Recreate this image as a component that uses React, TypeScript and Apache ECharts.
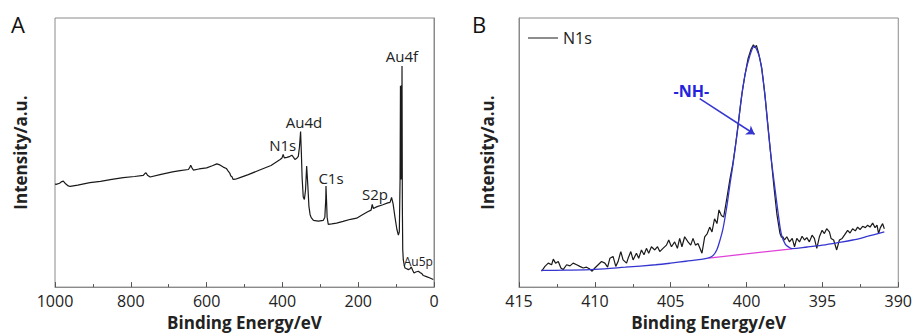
import React, { useEffect, useRef } from "react";
import * as echarts from "echarts";

// Panel A: XPS survey spectrum [binding energy (eV), intensity (a.u.)]
const surveyPoints: [number, number][] = [
  [1000, 38.3], [997, 38.2], [988, 38.6], [982, 39.2], [978, 39.4], [972, 38.4], [965, 37.6], [960, 37.4],
  [940, 37.9], [908, 38.8], [880, 39.3], [850, 40.0], [820, 40.7], [790, 41.1], [767, 41.5], [763, 42.2],
  [760, 42.5], [756, 41.6], [749, 40.9], [720, 41.9], [690, 42.8], [670, 43.3], [648, 43.7], [644, 44.6],
  [642, 45.3], [639, 44.4], [635, 43.5], [620, 43.9], [600, 44.3], [585, 45.1], [573, 45.8], [565, 45.4],
  [556, 44.6], [548, 44.1], [543, 43.1], [539, 42.4], [536, 41.3], [533, 41.0], [530, 40.0], [524, 40.1],
  [512, 40.7], [490, 41.8], [460, 43.5], [430, 45.2], [406, 47.4], [401, 48.0], [398, 49.3], [395, 48.0],
  [388, 48.2], [380, 48.6], [375, 49.0], [370, 48.1], [367, 47.4], [362, 47.9], [358, 48.6], [355, 52],
  [352, 57.8], [350, 50], [348, 40.7], [345, 33.5], [342, 32.6], [339, 36], [336, 45], [333, 38], [330, 30],
  [327, 27], [324, 25.8], [318, 24.8], [305, 24.5], [292, 24.8], [288, 26], [285.5, 33], [285, 37.6],
  [283.5, 32], [282, 26], [279, 23.3], [270, 23.5], [257, 23.8], [240, 24.4], [220, 25.2], [204, 25.6],
  [190, 26.8], [175, 28.0], [166, 28.6], [163, 30.7], [160, 29.2], [150, 29.9], [135, 30.6], [122, 31.3],
  [116, 31.5], [112, 33.3], [108, 31], [103, 26], [98, 21.5], [94, 19.3], [91.5, 20.5], [89.5, 40],
  [88.5, 74.8], [88.0, 45], [87.5, 74], [87.0, 40], [86.5, 74.5], [86.0, 42], [85.5, 75], [85.0, 40],
  [84.4, 82.2], [83.5, 30], [82.5, 14], [81, 10.1], [78, 7.8], [76.5, 7.1], [72, 6.8], [67.8, 6.5],
  [63, 6.8], [60, 7.5], [58.8, 7.7], [56, 6.2], [52.8, 5.2], [48, 5.6], [41.4, 5.9], [36, 5.3], [32, 5.0],
  [28.2, 4.3], [20, 3.9], [10.6, 3.4], [1.8, 2.8], [0, 2.8],
];

// Peak labels for panel A: name, energy, intensity anchor
const surveyLabelNames = ["Au4f", "Au4d", "N1s", "C1s", "S2p", "Au5p"];
const surveyLabelEnergy = [84.4, 343, 399.2, 271.8, 155.7, 41.4];
const surveyLabelIntensity = [85.8, 61.4, 52.9, 40.7, 34.5, 9.5];

// Panel B: N1s high-resolution spectrum
const n1sRaw: [number, number][] = [
  [413.51, 5.9], [413.29, 7.7], [413.07, 8.9], [412.85, 8.3], [412.74, 10.4], [412.59, 8.9], [412.41, 9.5],
  [412.24, 7.1], [412.09, 6.5], [411.86, 8.3], [411.64, 7.9], [411.43, 8.9], [411.2, 8.3], [410.99, 7.7],
  [410.77, 7.1], [410.55, 7.4], [410.33, 6.7], [410.18, 5.9], [410.0, 7.1], [409.78, 8.3], [409.56, 9.5],
  [409.34, 8.9], [409.16, 7.4], [409.01, 10.7], [408.8, 11.4], [408.62, 7.7], [408.47, 9.5], [408.29, 13.2],
  [408.14, 10.1], [407.91, 8.9], [407.81, 10.7], [407.63, 13.2], [407.48, 10.1], [407.26, 12.6], [407.11, 10.7],
  [406.93, 13.8], [406.76, 12.0], [406.6, 14.4], [406.45, 12.6], [406.27, 15.0], [406.05, 13.8], [405.87, 15.0],
  [405.72, 13.2], [405.51, 14.4], [405.28, 15.6], [405.13, 17.5], [404.95, 15.0], [404.74, 16.8], [404.56, 14.4],
  [404.41, 18.1], [404.26, 15.0], [404.08, 18.7], [403.86, 16.8], [403.68, 15.6], [403.53, 18.1], [403.37, 15.6],
  [403.2, 16.2], [402.94, 12.6], [402.76, 18.7], [402.59, 19.9], [402.43, 22.3], [402.28, 20.5], [402.11, 25.4],
  [401.95, 23.6], [401.82, 28.7], [401.66, 26.6], [401.51, 26.0], [401.3, 33], [401.1, 40], [400.9, 46],
  [400.7, 54], [400.5, 63], [400.3, 72], [400.1, 79], [399.9, 85], [399.7, 88.5], [399.55, 90], [399.45, 89],
  [399.35, 89.8], [399.2, 86.8], [399.0, 81.5], [398.8, 72], [398.6, 60.5], [398.4, 49], [398.2, 37.5],
  [398.0, 27], [397.8, 20], [397.7, 18.5], [397.61, 18.7], [397.5, 17.5], [397.35, 18.7], [397.17, 16.8],
  [396.99, 18.1], [396.84, 15.0], [396.69, 18.1], [396.51, 16.8], [396.34, 18.9], [396.18, 17.5], [396.03, 18.4],
  [395.86, 16.8], [395.68, 19.3], [395.53, 18.1], [395.37, 14.4], [395.2, 18.7], [395.02, 21.1], [394.87, 19.9],
  [394.72, 21.7], [394.54, 20.5], [394.43, 18.1], [394.26, 17.5], [394.06, 13.8], [393.88, 17.5], [393.7, 18.1],
  [393.55, 19.3], [393.34, 21.1], [393.18, 20.1], [393.01, 21.7], [392.83, 20.9], [392.68, 22.3], [392.52, 21.4],
  [392.35, 22.6], [392.17, 22.1], [392.02, 23.0], [391.86, 22.3], [391.69, 23.8], [391.53, 22.1], [391.4, 23.0],
  [391.3, 19.9], [391.18, 22.1], [391.03, 23.6], [390.92, 21.7],
];

const n1sFit: [number, number][] = [
  [413.55, 6.2], [412, 6.3], [410, 6.6], [408, 7.4], [406, 8.3], [405, 8.9], [404, 9.6], [403, 10.3],
  [402.5, 10.9], [402.2, 11.8], [401.95, 14], [401.75, 17.5], [401.56, 21.5], [401.3, 30], [401.1, 38],
  [400.9, 45.4], [400.6, 58], [400.35, 70], [400.1, 79], [399.8, 85.7], [399.5, 89.5], [399.2, 86.4],
  [399.03, 82], [398.8, 71.8], [398.6, 60], [398.4, 49], [398.16, 38], [397.9, 26.7], [397.7, 19.5],
  [397.45, 16], [397.2, 14.8], [397.0, 14.3], [396, 14.9], [395, 15.6], [394, 16.5], [393, 17.5],
  [392, 18.9], [390.92, 20.5],
];

const n1sBaseline: [number, number][] = [[402.5, 10.8], [397.0, 14.2]];

// Annotation: -NH- label and arrow (data coordinates)
const nhLabel: [number, number] = [403.64, 73.0];
const nhArrowFrom: [number, number] = [403.09, 70];
const nhArrowTo: [number, number] = [399.47, 56.8];

const FONT = '"Open Sans", "Noto Sans", sans-serif';
const TEXT = "#222";
const FRAME = "#8a8a8a";
const BLUE = "#3535d0";

export default function App() {
  const ref = useRef<HTMLDivElement>(null);
  useEffect(() => {
    if (!ref.current) return;
    const chart = echarts.init(ref.current, undefined, { renderer: "svg" });
    const xAxisCommon = {
      type: "value" as const,
      inverse: true,
      axisLine: { show: true, lineStyle: { color: FRAME, width: 1 } },
      axisTick: { show: true, inside: true, length: 5, lineStyle: { color: "#555" } },
      minorTick: { show: true, splitNumber: 2, length: 3, lineStyle: { color: "#555" } },
      splitLine: { show: false },
      minorSplitLine: { show: false },
      axisLabel: {
        color: TEXT, fontSize: 16, margin: 6, fontFamily: FONT, showMinLabel: true, showMaxLabel: true,
        formatter: (v: number) => String(v),
      },
      name: "Binding Energy/eV",
      nameLocation: "middle" as const,
      nameGap: 26,
      nameTextStyle: { fontWeight: "bold" as const, fontSize: 17, color: TEXT, fontFamily: FONT },
    };
    const yAxisCommon = {
      type: "value" as const,
      min: 0,
      max: 100,
      axisLine: { show: true, lineStyle: { color: FRAME, width: 1 } },
      axisTick: { show: false },
      axisLabel: { show: false },
      splitLine: { show: false },
      name: "Intensity/a.u.",
      nameLocation: "middle" as const,
      nameTextStyle: { fontWeight: "bold" as const, fontSize: 17, color: TEXT, fontFamily: FONT },
    };
    const option = {
      animation: false,
      backgroundColor: "#ffffff",
      textStyle: { fontFamily: FONT },
      grid: [
        { left: 55, top: 18, width: 379, height: 273, show: true, borderColor: FRAME, borderWidth: 1 },
        { left: 519, top: 18, width: 380, height: 273, show: true, borderColor: FRAME, borderWidth: 1 },
      ],
      xAxis: [
        { ...xAxisCommon, gridIndex: 0, min: 0, max: 1000, interval: 200 },
        { ...xAxisCommon, gridIndex: 1, min: 390, max: 415, interval: 5 },
      ],
      yAxis: [
        { ...yAxisCommon, gridIndex: 0, nameGap: 26 },
        { ...yAxisCommon, gridIndex: 1, nameGap: 23 },
      ],
      legend: {
        data: ["N1s"],
        left: 528,
        top: 30,
        padding: 0,
        icon: "rect",
        itemWidth: 30,
        itemHeight: 1,
        textStyle: { fontSize: 16, color: TEXT, fontFamily: FONT },
      },
      graphic: [
        { type: "text", left: 11, top: 13, style: { text: "A", fontSize: 22, fill: "#111", fontFamily: FONT } },
        { type: "text", left: 472, top: 13, style: { text: "B", fontSize: 22, fill: "#111", fontFamily: FONT } },
      ],
      series: [
        {
          name: "survey",
          type: "line",
          xAxisIndex: 0,
          yAxisIndex: 0,
          data: surveyPoints,
          showSymbol: false,
          lineStyle: { color: "#1a1a1a", width: 1.2 },
          itemStyle: { color: "#1a1a1a" },
          markPoint: {
            symbol: "circle",
            symbolSize: 1,
            itemStyle: { color: "rgba(0,0,0,0)" },
            silent: true,
            label: { show: true, position: "inside", formatter: "{b}", color: TEXT, fontSize: 15, fontFamily: FONT },
            data: surveyLabelNames.map((n, i) => ({
              name: n,
              coord: [surveyLabelEnergy[i], surveyLabelIntensity[i]],
              label: n === "Au5p" ? { fontSize: 12 } : undefined,
            })),
          },
        },
        {
          name: "N1s",
          type: "line",
          xAxisIndex: 1,
          yAxisIndex: 1,
          data: n1sRaw,
          showSymbol: false,
          z: 2,
          lineStyle: { color: "#1a1a1a", width: 1.2 },
          itemStyle: { color: "#1a1a1a" },
        },
        {
          name: "baseline",
          type: "line",
          xAxisIndex: 1,
          yAxisIndex: 1,
          data: n1sBaseline,
          showSymbol: false,
          z: 3,
          lineStyle: { color: "#e040d8", width: 1.2 },
        },
        {
          name: "fit",
          type: "line",
          xAxisIndex: 1,
          yAxisIndex: 1,
          data: n1sFit,
          showSymbol: false,
          smooth: 0.35,
          z: 4,
          lineStyle: { color: BLUE, width: 1.3 },
          itemStyle: { color: BLUE },
          markPoint: {
            symbol: "circle",
            symbolSize: 1,
            itemStyle: { color: "rgba(0,0,0,0)" },
            silent: true,
            label: { show: true, position: "inside", formatter: "{b}", color: "#2323dd", fontSize: 16, fontWeight: "bold", fontFamily: FONT },
            data: [{ name: "-NH-", coord: nhLabel }],
          },
          markLine: {
            silent: true,
            symbol: ["none", "arrow"],
            symbolSize: 8,
            label: { show: false },
            lineStyle: { color: BLUE, width: 1.5, type: "solid" },
            data: [[{ coord: nhArrowFrom }, { coord: nhArrowTo }]],
          },
        },
      ],
    };
    chart.setOption(option as any);
    return () => chart.dispose();
  }, []);
  return <div ref={ref} style={{ position: "absolute", left: 0, top: 0, width: 915, height: 336 }} />;
}
